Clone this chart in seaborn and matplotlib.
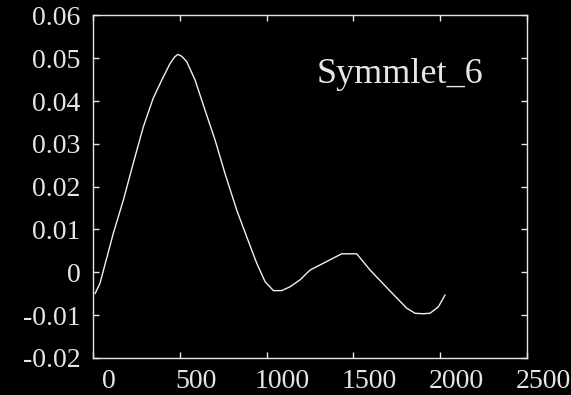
import matplotlib
matplotlib.use("Agg")
import matplotlib.pyplot as plt
import matplotlib.transforms as mtransforms
import seaborn as sns
import pandas as pd

# Data
x_vals = [12, 40, 117, 175, 232, 290, 347, 396, 444, 470, 488, 510, 540, 588, 645, 703,
          760, 828, 885, 943, 991, 1039, 1087, 1135, 1192, 1250, 1346, 1432, 1519,
          1596, 1711, 1807, 1855, 1900, 1941, 1989, 2028]
y_vals = [-0.0050, -0.0026, 0.0091, 0.0169, 0.0255, 0.0340, 0.0407, 0.0449, 0.0488,
          0.0503, 0.0509, 0.0505, 0.0492, 0.0449, 0.0379, 0.0309, 0.0231, 0.0145,
          0.0083, 0.0021, -0.0022, -0.0043, -0.0043, -0.0034, -0.0018, 0.0005,
          0.0025, 0.0043, 0.0043, 0.0005, -0.0044, -0.0084, -0.0096, -0.0097,
          -0.0096, -0.0081, -0.0053]
x_ticks = [0, 500, 1000, 1500, 2000, 2500]
y_ticks = [-0.02, -0.01, 0, 0.01, 0.02, 0.03, 0.04, 0.05, 0.06]
y_tick_labels = ["-0.02", "-0.01", "0", "0.01", "0.02", "0.03", "0.04", "0.05", "0.06"]
label_text = "Symmlet_6"

sns.set_theme(style="ticks")
fg = "#e6e6e6"
plt.rcParams.update({
    "font.family": ["Liberation Serif", "DejaVu Serif"],
    "figure.facecolor": "black",
    "axes.facecolor": "black",
    "axes.edgecolor": fg,
    "xtick.color": fg,
    "ytick.color": fg,
    "text.color": fg,
    "axes.linewidth": 1.0,
})

df = pd.DataFrame({"x": x_vals, "y": y_vals})

fig = plt.figure(figsize=(5.71, 3.95), dpi=100)
ax = fig.add_axes([0.1629, 0.0942, 0.923 - 0.1629, 0.9608 - 0.0942])
sns.lineplot(data=df, x="x", y="y", ax=ax, color="#f0f0f0", linewidth=1.0,
             estimator=None, sort=False)

ax.set_xlim(0, 2500)
ax.set_ylim(-0.02, 0.06)
ax.set_xticks(x_ticks)
ax.set_xticklabels([str(v) for v in x_ticks])
ax.set_yticks(y_ticks)
ax.set_yticklabels(y_tick_labels)
ax.set_xlabel("")
ax.set_ylabel("")
ax.tick_params(direction="in", length=4, width=1, top=True, right=True,
               labelsize=20, colors=fg)
ax.tick_params(axis="y", pad=9)
ax.tick_params(axis="x", pad=8)
for s in ax.spines.values():
    s.set_visible(True)
    s.set_color(fg)

offset = mtransforms.ScaledTranslation(0.16, 0, fig.dpi_scale_trans)
for lab in ax.get_xticklabels():
    lab.set_transform(lab.get_transform() + offset)

ax.text(1768, 0.0461, label_text, fontsize=26, ha="center", va="center", color=fg)

fig.savefig("out.png", dpi=100, facecolor="black")
